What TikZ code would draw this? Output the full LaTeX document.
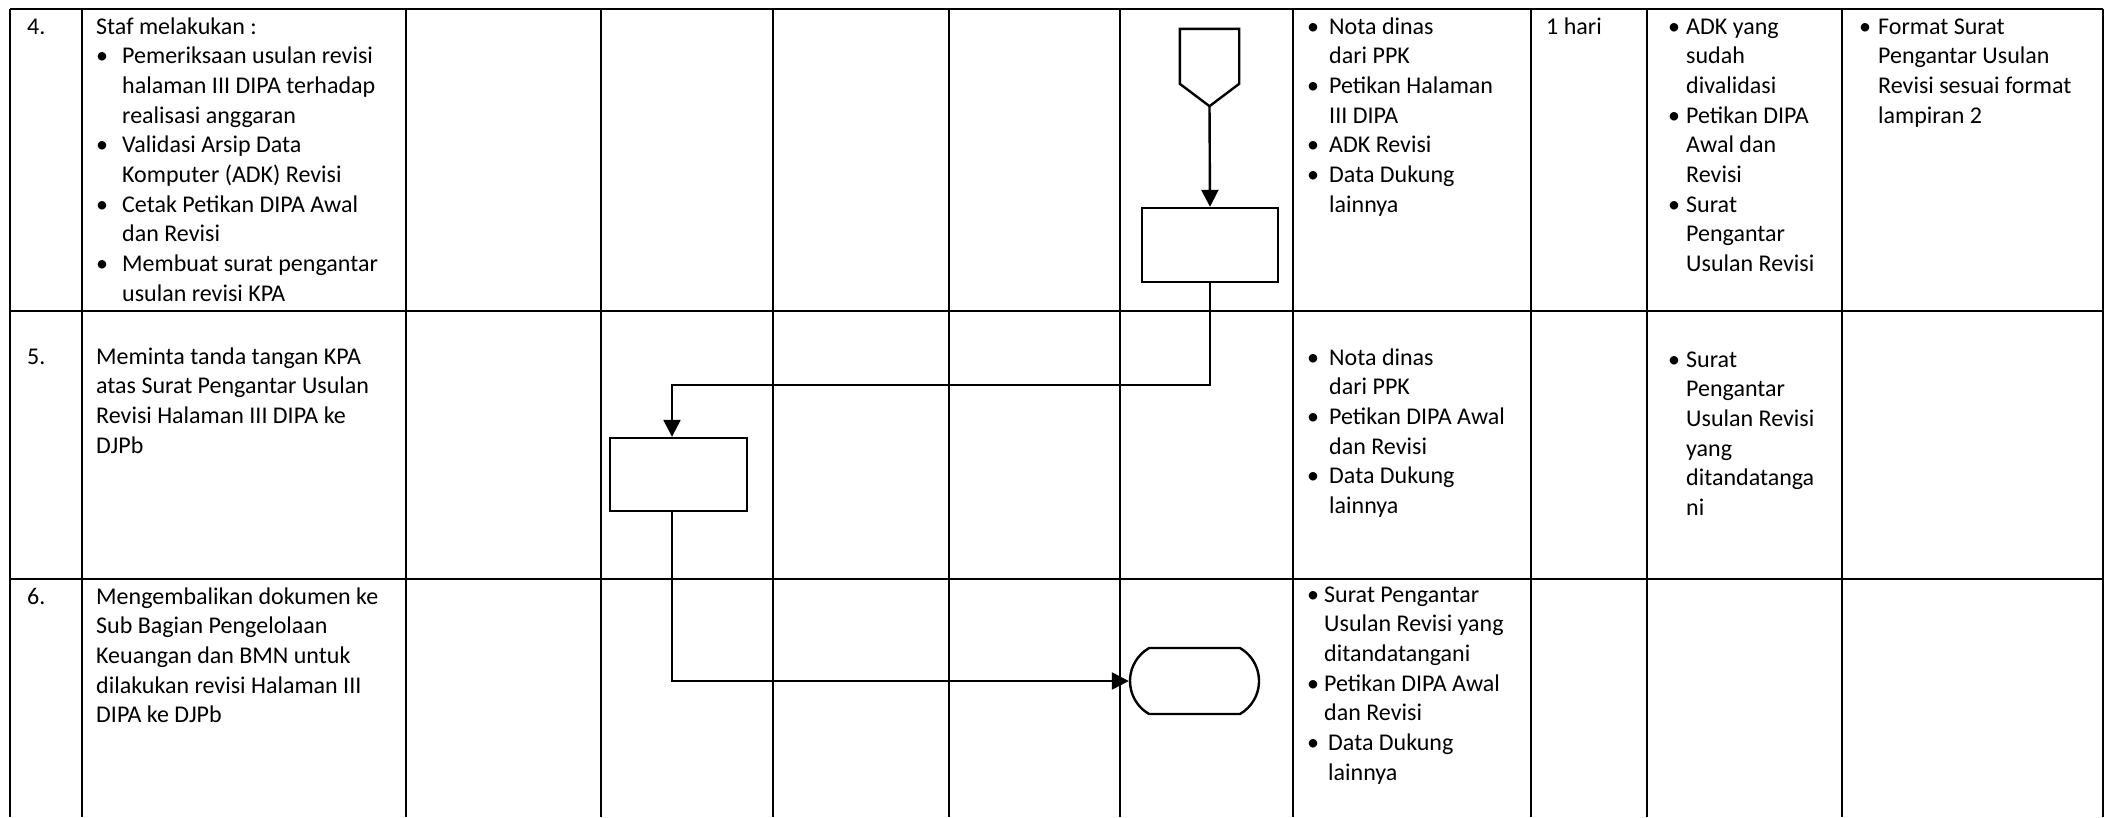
\documentclass[tikz,border=0pt]{standalone}
\usepackage{fontspec}
\setmainfont{Carlito}
\usetikzlibrary{arrows.meta,shapes.misc}
\newcommand\bul[1]{\makebox[#1][l]{\textbullet}}
\newcommand\ind[1]{\hspace*{#1}}
\newcommand\lns[1]{\begin{tabular}[t]{@{}l@{}}#1\end{tabular}}
\begin{document}
\begin{tikzpicture}[x=1pt,y=-1pt,
  grid/.style={line width=2pt},
  shp/.style={draw, line width=2.4pt, inner sep=0pt},
  conn/.style={line width=2.4pt},
  arr/.style={line width=2.4pt, -{Triangle[length=17pt,width=17pt]}},
  txt/.style={anchor=base west, inner sep=0pt, font=\fontsize{24}{29.7}\selectfont},
]
\useasboundingbox (0,0) rectangle (2106,817);
% table grid
\draw[grid] (10,9) -- (2103,9);
\draw[grid] (10,311) -- (2103,311);
\draw[grid] (10,579) -- (2103,579);
\foreach \x in {10,82,406,601,773,949,1120,1293,1531,1647,1842,2103}
  \draw[grid] (\x,9) -- (\x,817);

% flow shapes
\node[minimum width=59pt, minimum height=77pt, inner sep=0pt] (off) at (1209.5,67.5) {};
\draw[conn, line join=miter] (off.north west) -- (off.north east) -- ([yshift=-55pt]off.north east)
  -- (off.south) -- ([yshift=-55pt]off.north west) -- cycle;
\node[shp, minimum width=136pt, minimum height=74pt] (box1) at (1210,245) {};
\node[shp, minimum width=137pt, minimum height=73pt] (box2) at (678.5,474.5) {};
\node[shp, rounded rectangle, rounded rectangle arc length=120, minimum width=129pt, minimum height=66pt] (term) at (1194.5,681) {};
\coordinate (j1) at (672,385);

% connectors
\draw[arr] (off.south) -- (box1.north);
\draw[arr] (box1.south) |- (j1) -- (j1 |- box2.north);
\draw[arr] (j1 |- box2.south) |- (term.west);

% row 4
\node[txt] (n4) at (27,34) {4.};
\node[txt] (r4c2) at (96,34) {\lns{Staf melakukan :\\
\bul{26pt}Pemeriksaan usulan revisi\\
\ind{26pt}halaman III DIPA terhadap\\
\ind{26pt}realisasi anggaran\\
\bul{26pt}Validasi Arsip Data\\
\ind{26pt}Komputer (ADK) Revisi\\
\bul{26pt}Cetak Petikan DIPA Awal\\
\ind{26pt}dan Revisi\\
\bul{26pt}Membuat surat pengantar\\
\ind{26pt}usulan revisi KPA}};
\node[txt] (r4c8) at (1307,34) {\lns{\bul{22pt}Nota dinas\\
\ind{22pt}dari PPK\\
\bul{22pt}Petikan Halaman\\
\ind{22pt}III DIPA\\
\bul{22pt}ADK Revisi\\
\bul{22pt}Data Dukung\\
\ind{22pt}lainnya}};
\node[txt] (r4c9) at (1546,34) {1 hari};
\node[txt] (r4c10) at (1668,34) {\lns{\bul{18pt}ADK yang\\
\ind{18pt}sudah\\
\ind{18pt}divalidasi\\
\bul{18pt}Petikan DIPA\\
\ind{18pt}Awal dan\\
\ind{18pt}Revisi\\
\bul{18pt}Surat\\
\ind{18pt}Pengantar\\
\ind{18pt}Usulan Revisi}};
\node[txt] (r4c11) at (1859,34) {\lns{\bul{19pt}Format Surat\\
\ind{19pt}Pengantar Usulan\\
\ind{19pt}Revisi sesuai format\\
\ind{19pt}lampiran 2}};

% row 5
\node[txt] (n5) at (27,364) {5.};
\node[txt] (r5c2) at (96,364) {\lns{Meminta tanda tangan KPA\\
atas Surat Pengantar Usulan\\
Revisi Halaman III DIPA ke\\
DJPb}};
\node[txt] (r5c8) at (1307,365) {\lns{\bul{22pt}Nota dinas\\
\ind{22pt}dari PPK\\
\bul{22pt}Petikan DIPA Awal\\
\ind{22pt}dan Revisi\\
\bul{22pt}Data Dukung\\
\ind{22pt}lainnya}};
\node[txt] (r5c10) at (1668,367) {\lns{\bul{18pt}Surat\\
\ind{18pt}Pengantar\\
\ind{18pt}Usulan Revisi\\
\ind{18pt}yang\\
\ind{18pt}ditandatanga\\
\ind{18pt}ni}};

% row 6
\node[txt] (n6) at (27,604) {6.};
\node[txt] (r6c2) at (96,604) {\lns{Mengembalikan dokumen ke\\
Sub Bagian Pengelolaan\\
Keuangan dan BMN untuk\\
dilakukan revisi Halaman III\\
DIPA ke DJPb}};
\node[txt] (r6c8) at (1307,602) {\lns{\bul{17pt}Surat Pengantar\\
\ind{17pt}Usulan Revisi yang\\
\ind{17pt}ditandatangani\\
\bul{17pt}Petikan DIPA Awal\\
\ind{17pt}dan Revisi\\
\bul{21pt}Data Dukung\\
\ind{21pt}lainnya}};
\end{tikzpicture}
\end{document}
